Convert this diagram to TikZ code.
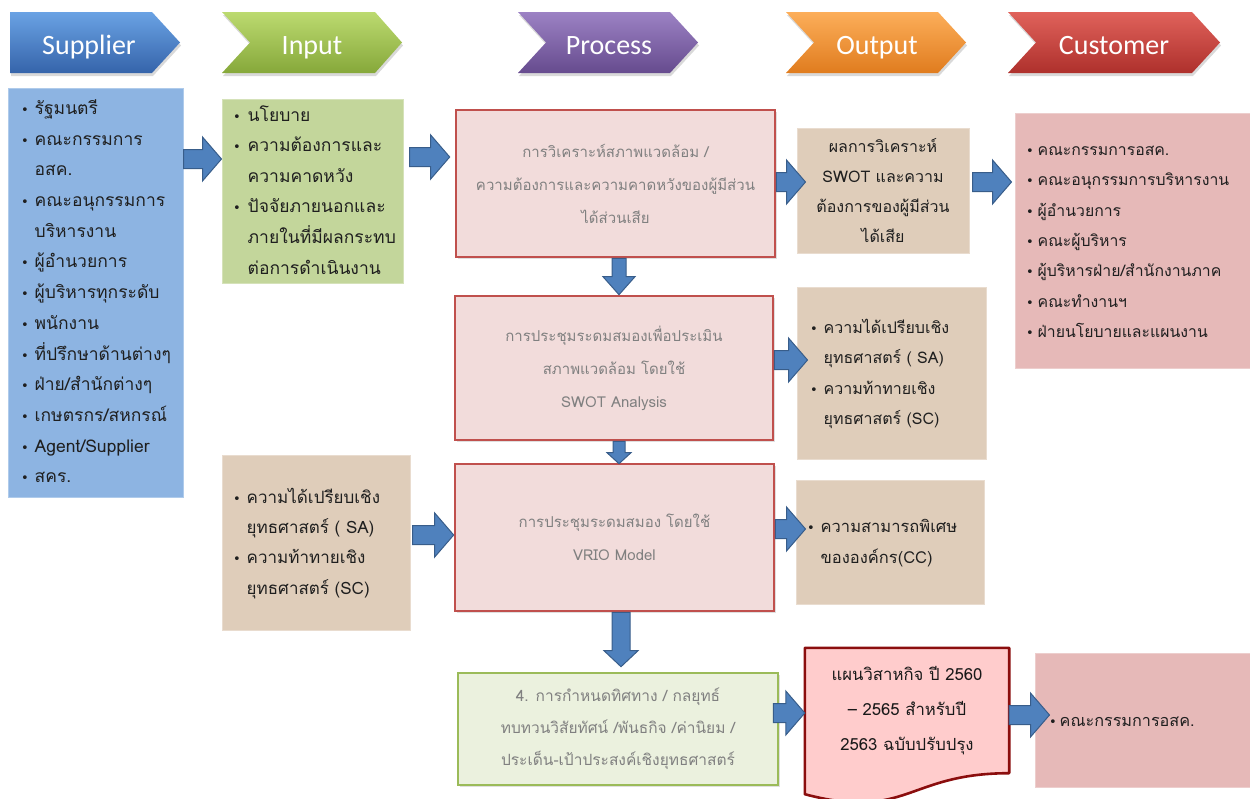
\documentclass[tikz,border=0pt]{standalone}
\usepackage{fontspec}
\setmainfont{Noto Sans}
\newfontfamily\thai[Script=Thai]{Loma}
\newfontfamily\hdrfont{Carlito}
\newfontfamily\symfont{DejaVu Sans}
\usetikzlibrary{calc,shadows,backgrounds}

\definecolor{supfill}{HTML}{8DB4E2}
\definecolor{inpfill}{HTML}{C3D69B}
\definecolor{tanfill}{HTML}{DFCDBA}
\definecolor{custfill}{HTML}{E6B9B8}
\definecolor{procfill}{HTML}{F2DCDB}
\definecolor{procline}{HTML}{C0504D}
\definecolor{pfourfill}{HTML}{EBF1DE}
\definecolor{pfourline}{HTML}{9BBB59}
\definecolor{docfill}{HTML}{FFCCCC}
\definecolor{docline}{HTML}{8B0E0E}
\definecolor{arrowfill}{HTML}{4F81BD}
\definecolor{arrowline}{HTML}{385D8A}
% header chevron colours: top, middle, bottom
\definecolor{supA}{HTML}{6AA2E4}\definecolor{supB}{HTML}{467DC8}\definecolor{supC}{HTML}{3564AA}
\definecolor{inpA}{HTML}{BCDA70}\definecolor{inpB}{HTML}{A0C64E}\definecolor{inpC}{HTML}{86A83A}
\definecolor{proA}{HTML}{9C82C4}\definecolor{proB}{HTML}{8062A8}\definecolor{proC}{HTML}{664B8E}
\definecolor{outA}{HTML}{FCAE5A}\definecolor{outB}{HTML}{F79433}\definecolor{outC}{HTML}{E07C1E}
\definecolor{cusA}{HTML}{E0625B}\definecolor{cusB}{HTML}{D0403C}\definecolor{cusC}{HTML}{AE302C}

% list bullet
\newcommand\bul{{\symfont\fontsize{13}{13}\selectfont •}}

% horizontal block arrow: from node, to node, y, start shift, end shift
\newcommand\harr[5]{%
  \path[blockarrow] let \p1=($(#1.east)+(#4,0)$), \p2=($(#2.west)+(#5,0)$), \p3=(0,#3) in
    (\x1,{\y3+9.5pt}) -- ({\x2-19pt},{\y3+9.5pt}) -- ({\x2-19pt},{\y3+22pt})
    -- (\x2,\y3) -- ({\x2-19pt},{\y3-22pt}) -- ({\x2-19pt},{\y3-9.5pt})
    -- (\x1,{\y3-9.5pt}) -- cycle;}

% vertical block arrow: from, to, x, shaft half width, head half width, head length, end shift
\newcommand\varr[7]{%
  \path[blockarrow] let \p1=(#1.south), \p2=($(#2.north)+(0,#7)$), \p3=(#3,0) in
    ({\x3-#4pt},\y1) -- ({\x3-#4pt},{\y2+#6pt}) -- ({\x3-#5pt},{\y2+#6pt})
    -- (\x3,\y2) -- ({\x3+#5pt},{\y2+#6pt}) -- ({\x3+#4pt},{\y2+#6pt})
    -- ({\x3+#4pt},\y1) -- cycle;}

\begin{document}
\begin{tikzpicture}[x=1pt,y=-1pt,
  header/.style={draw=none, drop shadow={opacity=0.3, shadow xshift=1pt, shadow yshift=-3pt}},
  htext/.style={font=\hdrfont\fontsize{28}{30}\selectfont, text=white, inner sep=0pt, anchor=base},
  listbox/.style={rectangle, inner ysep=0pt, align=left, text=black!88,
    font=\thai\fontsize{15}{30.6}\selectfont},
  procbox/.style={rectangle, fill=procfill, draw=procline, line width=2.6pt, inner sep=0pt,
    align=center, text=black!50, font=\thai\fontsize{15}{33}\selectfont,
    drop shadow={opacity=0.25, shadow xshift=1.5pt, shadow yshift=-2pt}},
  blockarrow/.style={fill=arrowfill, draw=arrowline, line width=1pt, line join=miter},
]
\useasboundingbox (0,0) rectangle (1250,798);

% ---- header chevrons ----
\path[header, top color=supA, middle color=supB, bottom color=supC]
  (10,12) -- (152,12) -- (180,42.5) -- (152,73) -- (10,73) -- cycle;
\node[htext] (hsup) at (89,54) {Supplier};
\path[header, top color=inpA, middle color=inpB, bottom color=inpC]
  (222,12) -- (375,12) -- (402,42.5) -- (375,73) -- (222,73) -- (250,42.5) -- cycle;
\node[htext] (hinp) at (312,54) {Input};
\path[header, top color=proA, middle color=proB, bottom color=proC]
  (518,12) -- (670,12) -- (698,42.5) -- (670,73) -- (518,73) -- (546,42.5) -- cycle;
\node[htext] (hproc) at (609,54) {Process};
\path[header, top color=outA, middle color=outB, bottom color=outC]
  (786,12) -- (938,12) -- (966,42.5) -- (938,73) -- (786,73) -- (814,42.5) -- cycle;
\node[htext] (hout) at (877,54) {Output};
\path[header, top color=cusA, middle color=cusB, bottom color=cusC]
  (1008,12) -- (1192,12) -- (1220,42.5) -- (1192,73) -- (1008,73) -- (1036,42.5) -- cycle;
\node[htext] (hcust) at (1114,54) {Customer};

% ---- supplier / input ----
\node[listbox, fill=supfill, draw=supfill!70!white, line width=1pt,
  minimum width=175pt, minimum height=409pt, inner xsep=13pt, text width=149pt,
  font=\thai\fontsize{17.5}{30.7}\selectfont]
  (sup) at (95.5,292.5) {%
  \begin{tabular}{@{}l@{\hspace{6pt}}l@{}}
  \bul & รัฐมนตรี\\
  \bul & คณะกรรมการ\\
       & อสค.\\
  \bul & คณะอนุกรรมการ\\
       & บริหารงาน\\
  \bul & ผู้อำนวยการ\\
  \bul & ผู้บริหารทุกระดับ\\
  \bul & พนักงาน\\
  \bul & ที่ปรึกษาด้านต่างๆ\\
  \bul & ฝ่าย/สำนักต่างๆ\\
  \bul & เกษตรกร/สหกรณ์\\
  \bul & Agent/Supplier\\
  \bul & สคร.
  \end{tabular}};

\node[listbox, fill=inpfill, draw=inpfill!70!white, line width=1pt,
  minimum width=181pt, minimum height=177pt, inner xsep=11pt, text width=159pt,
  font=\thai\fontsize{17.5}{30.6}\selectfont]
  (inp) at (312.5,191.5) {%
  \begin{tabular}{@{}l@{\hspace{7pt}}l@{}}
  \bul & นโยบาย\\
  \bul & ความต้องการและ\\
       & ความคาดหวัง\\
  \bul & ปัจจัยภายนอกและ\\
       & ภายในที่มีผลกระทบ\\
       & ต่อการดำเนินงาน
  \end{tabular}};

% ---- process column ----
\node[procbox, minimum width=319pt, minimum height=147pt] (p1) at (615.5,183.5)
  {การวิเคราะห์สภาพแวดล้อม /\\ความต้องการและความคาดหวังของผู้มีส่วน\\ได้ส่วนเสีย};
\node[procbox, minimum width=318pt, minimum height=144pt] (p2) at (614,368)
  {การประชุมระดมสมองเพื่อประเมิน\\สภาพแวดล้อม โดยใช้\\SWOT Analysis};
\node[procbox, minimum width=319pt, minimum height=147pt] (p3) at (614.5,537.5)
  {การประชุมระดมสมอง โดยใช้\\VRIO Model};
\node[procbox, fill=pfourfill, draw=pfourline, minimum width=320pt, minimum height=112pt,
  font=\thai\fontsize{15.5}{32}\selectfont] (p4) at (618,729)
  {4. การกำหนดทิศทาง / กลยุทธ์\\ทบทวนวิสัยทัศน์ /พันธกิจ /ค่านิยม /\\ประเด็น-เป้าประสงค์เชิงยุทธศาสตร์};

% ---- left input for VRIO ----
\node[listbox, fill=tanfill, draw=tanfill!70!white, line width=1pt,
  minimum width=188pt, minimum height=175pt, inner xsep=11pt, text width=166pt,
  font=\thai\fontsize{17}{30.3}\selectfont]
  (sasc) at (316,542.5) {%
  \begin{tabular}{@{}l@{\hspace{6pt}}l@{}}
  \bul & ความได้เปรียบเชิง\\
       & ยุทธศาสตร์ ( SA)\\
  \bul & ความท้าทายเชิง\\
       & ยุทธศาสตร์ (SC)
  \end{tabular}};

% ---- outputs ----
\node[listbox, fill=tanfill, draw=tanfill!70!white, line width=1pt, align=center,
  minimum width=172pt, minimum height=125pt, inner sep=0pt, font=\thai\fontsize{16}{30}\selectfont]
  (out1) at (883,190.5)
  {ผลการวิเคราะห์\\SWOT และความ\\ต้องการของผู้มีส่วน\\ได้เสีย};

\node[listbox, fill=tanfill, draw=tanfill!70!white, line width=1pt,
  minimum width=189pt, minimum height=172pt, inner xsep=13pt, text width=163pt,
  font=\thai\fontsize{16}{30.3}\selectfont]
  (out2) at (891.5,373) {%
  \begin{tabular}{@{}l@{\hspace{6pt}}l@{}}
  \bul & ความได้เปรียบเชิง\\
       & ยุทธศาสตร์ ( SA)\\
  \bul & ความท้าทายเชิง\\
       & ยุทธศาสตร์ (SC)
  \end{tabular}};

\node[listbox, fill=tanfill, draw=tanfill!70!white, line width=1pt,
  minimum width=188pt, minimum height=124pt, inner xsep=11pt, text width=166pt,
  font=\thai\fontsize{16.5}{31}\selectfont]
  (out3) at (890,542) {%
  \begin{tabular}{@{}l@{\hspace{6pt}}l@{}}
  \bul & ความสามารถพิเศษ\\
       & ขององค์กร(CC)
  \end{tabular}};

\node[rectangle, inner sep=0pt, minimum width=204pt, minimum height=125pt, align=center,
  text=black!90, font=\thai\fontsize{16.7}{35}\selectfont] (doc) at (907,710.5)
  {แผนวิสาหกิจ ปี 2560\\– 2565 สำหรับปี\\2563 ฉบับปรับปรุง};
\begin{pgfonlayer}{background}
  \path[fill=docfill, draw=docline, line width=2.6pt, line join=round]
    (doc.north west) -- (doc.north east) -- (doc.south east)
    .. controls (doc.south) and ($(doc.south)+(0,48)$) .. ($(doc.south west)+(0,21)$)
    -- cycle;
\end{pgfonlayer}

% ---- customers ----
\node[listbox, fill=custfill, draw=custfill!70!white, line width=1pt,
  minimum width=237pt, minimum height=255pt, inner xsep=11pt, text width=215pt,
  font=\thai\fontsize{15.8}{30.3}\selectfont]
  (cust) at (1133.5,240.5) {%
  \begin{tabular}{@{}l@{\hspace{4pt}}l@{}}
  \bul & คณะกรรมการอสค.\\
  \bul & คณะอนุกรรมการบริหารงาน\\
  \bul & ผู้อำนวยการ\\
  \bul & คณะผู้บริหาร\\
  \bul & ผู้บริหารฝ่าย/สำนักงานภาค\\
  \bul & คณะทำงานฯ\\
  \bul & ฝ่ายนโยบายและแผนงาน
  \end{tabular}};

\node[listbox, fill=custfill, draw=custfill!70!white, line width=1pt,
  minimum width=216pt, minimum height=134pt, inner xsep=14pt, text width=188pt,
  font=\thai\fontsize{16.2}{30}\selectfont]
  (cust2) at (1143,720) {%
  \begin{tabular}{@{}l@{\hspace{3pt}}l@{}}
  \bul & คณะกรรมการอสค.
  \end{tabular}};

% ---- connectors ----
\harr{sup}{inp}{159}{0}{0}
\harr{inp}{p1}{157}{6}{-5}
\harr{p1}{out1}{182}{0}{9}
\harr{out1}{cust}{182}{3}{-3}
\harr{p2}{out2}{360}{0}{11}
\harr{sasc}{p3}{535}{2}{0}
\harr{p3}{out3}{529}{0}{10}
\harr{p4}{doc}{713}{-6}{0}
\harr{doc}{cust2}{715}{0}{15}
\varr{p1}{p2}{619}{7}{16}{18}{0}
\varr{p2}{p3}{619}{6}{12}{11}{1}
\varr{p3}{p4}{621}{9}{17}{16}{-5}
\end{tikzpicture}
\end{document}
